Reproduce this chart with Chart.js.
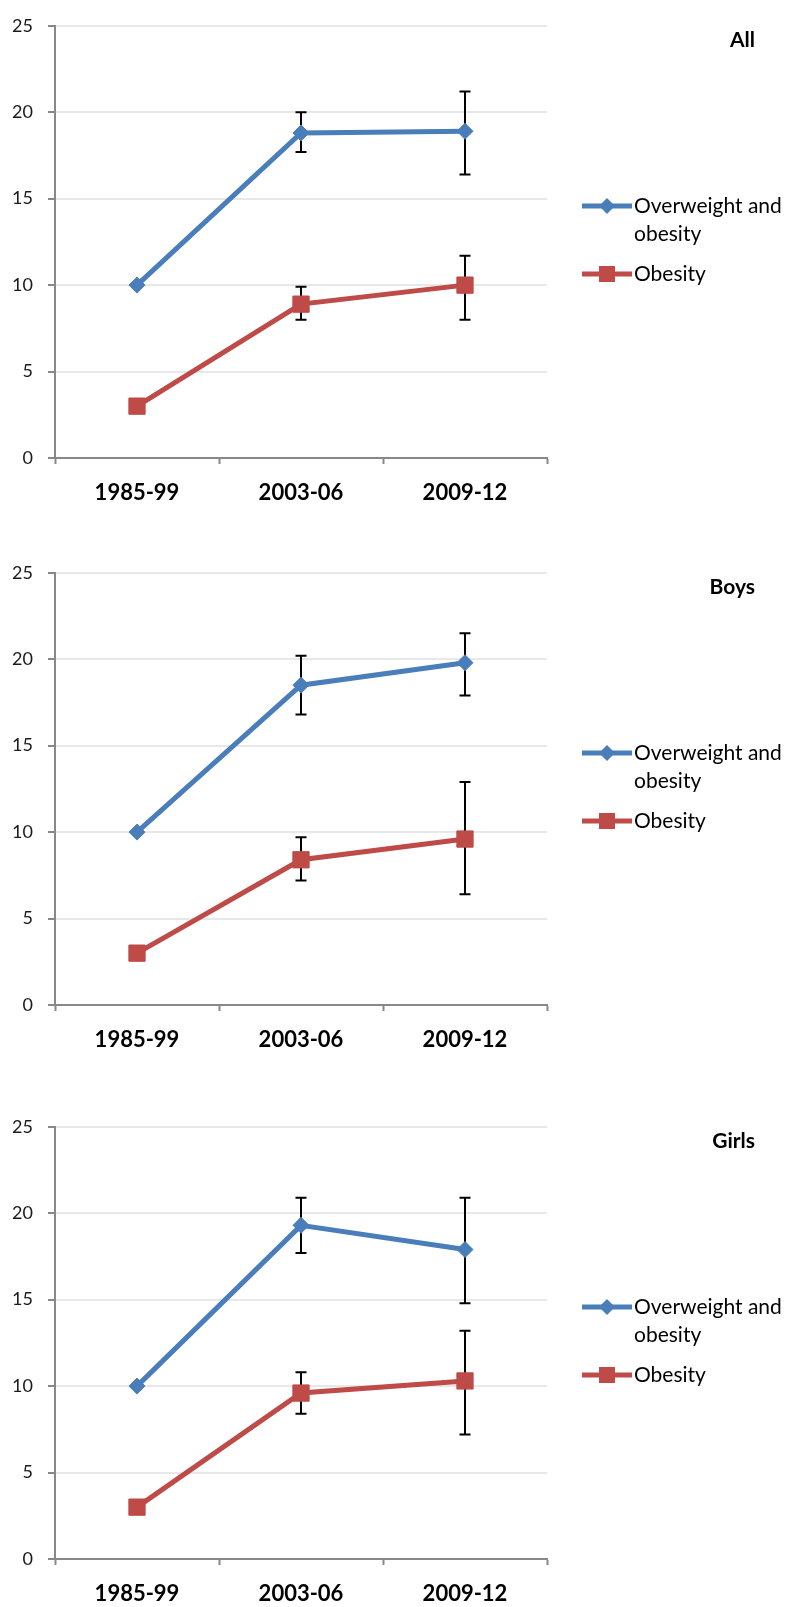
<!DOCTYPE html>
<html>
<head>
<meta charset="utf-8">
<script src="https://cdn.jsdelivr.net/npm/chart.js"></script>
<style>
  body { margin: 0; background: #fff; width: 785px; height: 1607px; overflow: hidden; position: relative; }
  canvas { position: absolute; left: 0; }
</style>
</head>
<body>
<canvas id="all-chart" width="785" height="506" style="top:0px"></canvas>
<canvas id="boys-chart" width="785" height="506" style="top:547px"></canvas>
<canvas id="girls-chart" width="785" height="506" style="top:1101px"></canvas>
<script>
var periods = ['1985-99', '2003-06', '2009-12'];
var seriesNames = ['Overweight and obesity', 'Obesity'];

// All
var allOverweight = [10, 18.8, 18.9];
var allOverweightLow = [null, 17.7, 16.4];
var allOverweightHigh = [null, 20.0, 21.2];
var allObesity = [3, 8.9, 10.0];
var allObesityLow = [null, 8.0, 8.0];
var allObesityHigh = [null, 9.9, 11.7];

// Boys
var boysOverweight = [10, 18.5, 19.8];
var boysOverweightLow = [null, 16.8, 17.9];
var boysOverweightHigh = [null, 20.2, 21.5];
var boysObesity = [3, 8.4, 9.6];
var boysObesityLow = [null, 7.2, 6.4];
var boysObesityHigh = [null, 9.7, 12.9];

// Girls
var girlsOverweight = [10, 19.3, 17.9];
var girlsOverweightLow = [null, 17.7, 14.8];
var girlsOverweightHigh = [null, 20.9, 20.9];
var girlsObesity = [3, 9.6, 10.3];
var girlsObesityLow = [null, 8.4, 7.2];
var girlsObesityHigh = [null, 10.8, 13.2];

var blue = '#4A7EBB';
var red = '#BE4B48';
var fontFamily = 'Lato, "Open Sans", sans-serif';

// black error bars, drawn under the lines and markers
var errorBars = {
    id: 'errorBars',
    beforeDatasetsDraw: function(chart) {
        var ctx = chart.ctx;
        var yScale = chart.scales.y;
        ctx.save();
        ctx.strokeStyle = '#000';
        ctx.lineWidth = 2;
        chart.data.datasets.forEach(function(ds, i) {
            var meta = chart.getDatasetMeta(i);
            ds.low.forEach(function(lo, j) {
                if (lo === null) return;
                var x = meta.data[j].x;
                var top = yScale.getPixelForValue(ds.high[j]);
                var bot = yScale.getPixelForValue(lo);
                ctx.beginPath();
                ctx.moveTo(x, top);
                ctx.lineTo(x, bot);
                ctx.moveTo(x - 5.5, top);
                ctx.lineTo(x + 5.5, top);
                ctx.moveTo(x - 5.5, bot);
                ctx.lineTo(x + 5.5, bot);
                ctx.stroke();
            });
        });
        ctx.restore();
    }
};

function wrapText(ctx, text, maxWidth) {
    var words = text.split(' ');
    var lines = [];
    var line = '';
    words.forEach(function(w) {
        var test = line ? line + ' ' + w : w;
        if (ctx.measureText(test).width > maxWidth && line) {
            lines.push(line);
            line = w;
        } else {
            line = test;
        }
    });
    lines.push(line);
    return lines;
}

// panel title and legend on the right side
var sideLegend = {
    id: 'sideLegend',
    afterDraw: function(chart) {
        var ctx = chart.ctx;
        ctx.save();
        ctx.fillStyle = '#000';
        ctx.font = 'bold 21px ' + fontFamily;
        ctx.textAlign = 'right';
        ctx.textBaseline = 'middle';
        ctx.fillText(chart.options.plugins.sideLegend.title, 755, 40);

        var y = 206;
        ctx.font = '21px ' + fontFamily;
        ctx.textAlign = 'left';
        chart.data.datasets.forEach(function(ds) {
            ctx.strokeStyle = ds.borderColor;
            ctx.fillStyle = ds.borderColor;
            ctx.lineWidth = 5;
            ctx.beginPath();
            ctx.moveTo(582, y);
            ctx.lineTo(632, y);
            ctx.stroke();
            ctx.beginPath();
            if (ds.pointStyle === 'rectRot') {
                ctx.moveTo(599, y);
                ctx.lineTo(607, y - 8);
                ctx.lineTo(615, y);
                ctx.lineTo(607, y + 8);
                ctx.closePath();
            } else {
                ctx.rect(599, y - 8, 16, 16);
            }
            ctx.fill();
            ctx.fillStyle = '#000';
            var lines = wrapText(ctx, ds.label, 152);
            lines.forEach(function(l, k) {
                ctx.fillText(l, 634, y + k * 28);
            });
            y += (lines.length - 1) * 28 + 40;
        });
        ctx.restore();
    }
};

function createChart(id, title, ow, owLow, owHigh, ob, obLow, obHigh) {
    return new Chart(document.getElementById(id), {
        type: 'line',
        data: {
            labels: periods,
            datasets: [{
                label: seriesNames[0],
                data: ow,
                low: owLow,
                high: owHigh,
                borderColor: blue,
                backgroundColor: blue,
                borderWidth: 5,
                pointStyle: 'rectRot',
                pointRadius: 8,
                pointBorderWidth: 1,
                fill: false
            }, {
                label: seriesNames[1],
                data: ob,
                low: obLow,
                high: obHigh,
                borderColor: red,
                backgroundColor: red,
                borderWidth: 5,
                pointStyle: 'rect',
                pointRadius: 11.5,
                pointBorderWidth: 1,
                fill: false
            }]
        },
        options: {
            responsive: false,
            animation: false,
            layout: {
                padding: { top: 21, right: 238, left: 0, bottom: 0 }
            },
            plugins: {
                legend: { display: false },
                tooltip: { enabled: false },
                sideLegend: { title: title }
            },
            scales: {
                x: {
                    offset: true,
                    afterFit: function(scale) { scale.height = 48; },
                    grid: {
                        offset: true,
                        drawOnChartArea: false,
                        tickLength: 6,
                        tickColor: '#888',
                        tickWidth: 2
                    },
                    border: { color: '#888', width: 2 },
                    ticks: {
                        color: '#000',
                        padding: 16,
                        font: { family: fontFamily, size: 22, weight: 'bold' }
                    }
                },
                y: {
                    min: 0,
                    max: 25,
                    afterFit: function(scale) { scale.width = 55; },
                    grid: {
                        color: '#e8e8e8',
                        lineWidth: 2,
                        tickLength: 7,
                        tickColor: '#888',
                        tickWidth: 2
                    },
                    border: { color: '#888', width: 2 },
                    ticks: {
                        stepSize: 5,
                        color: '#1a1a1a',
                        padding: 15,
                        font: { family: fontFamily, size: 18 }
                    }
                }
            }
        },
        plugins: [errorBars, sideLegend]
    });
}

createChart('all-chart', 'All', allOverweight, allOverweightLow, allOverweightHigh, allObesity, allObesityLow, allObesityHigh);
createChart('boys-chart', 'Boys', boysOverweight, boysOverweightLow, boysOverweightHigh, boysObesity, boysObesityLow, boysObesityHigh);
createChart('girls-chart', 'Girls', girlsOverweight, girlsOverweightLow, girlsOverweightHigh, girlsObesity, girlsObesityLow, girlsObesityHigh);
</script>
</body>
</html>
